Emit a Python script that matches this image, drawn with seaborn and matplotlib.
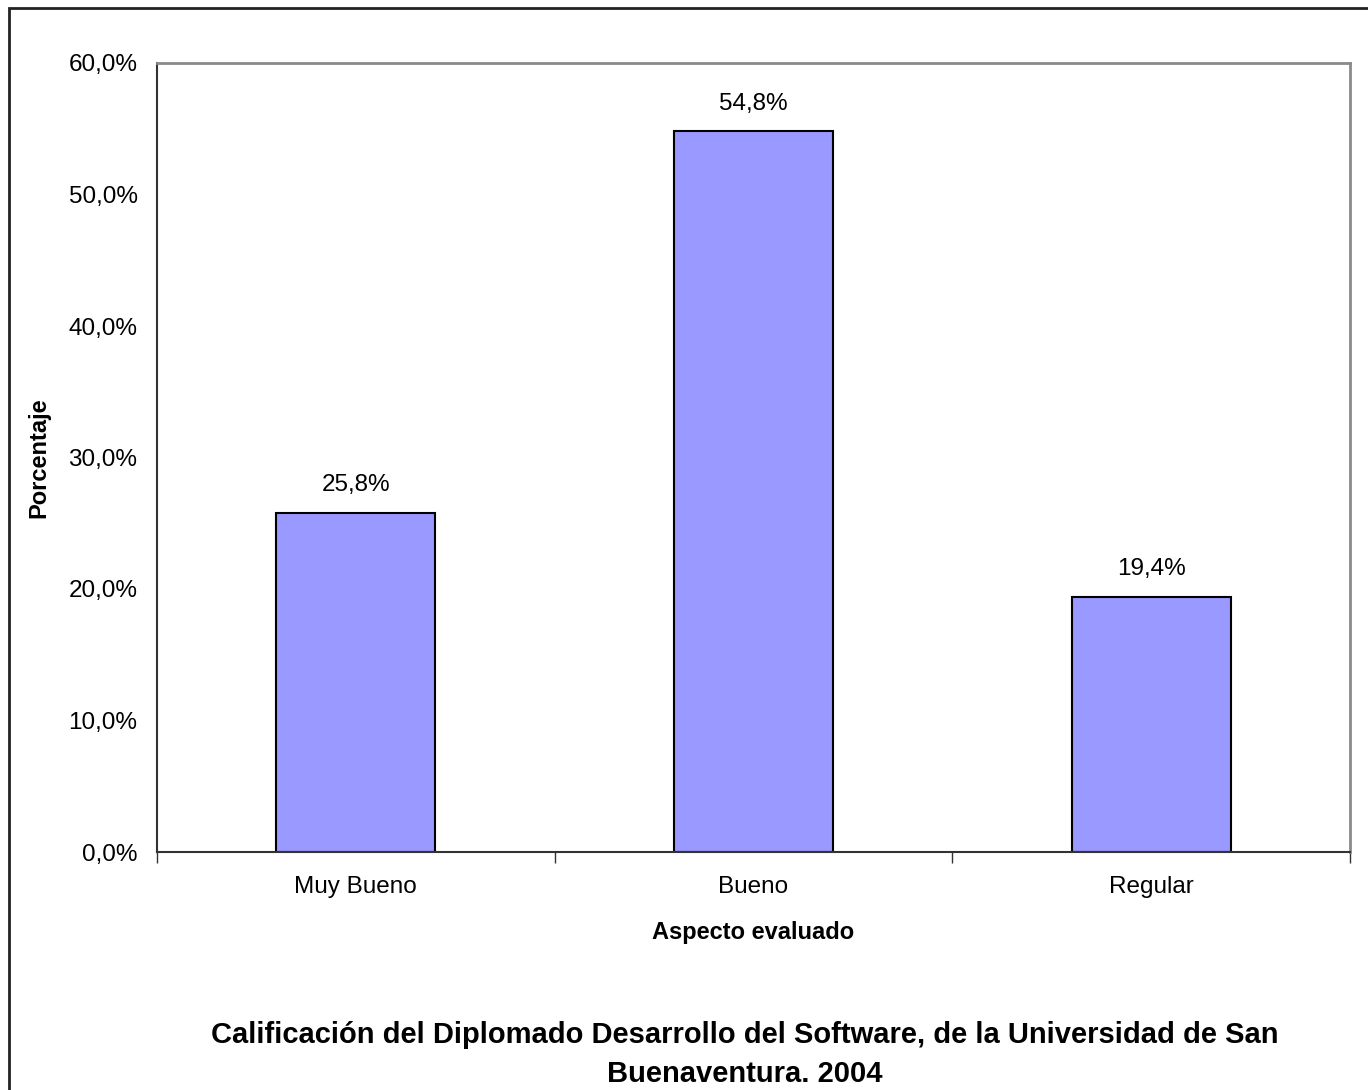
import matplotlib
matplotlib.use("Agg")
import matplotlib.pyplot as plt
from matplotlib.patches import Rectangle
from matplotlib.ticker import FuncFormatter, FixedLocator
import seaborn as sns
import pandas as pd

# data
categorias = ["Muy Bueno", "Bueno", "Regular"]
porcentajes = [25.8, 54.8, 19.4]
etiquetas = ["25,8%", "54,8%", "19,4%"]

sns.set_style("white")
plt.rcParams["font.family"] = ["Liberation Sans", "DejaVu Sans"]
plt.rcParams["text.color"] = "black"
plt.rcParams["xtick.color"] = "black"
plt.rcParams["ytick.color"] = "black"
plt.rcParams["axes.labelcolor"] = "black"

df = pd.DataFrame({"categoria": categorias, "porcentaje": porcentajes})

fig = plt.figure(figsize=(13.68, 10.90), dpi=100)
ax = fig.add_axes([157 / 1368, 1 - 852 / 1090, (1350 - 157) / 1368, (852 - 63) / 1090])

sns.barplot(data=df, x="categoria", y="porcentaje", order=categorias,
            color="#9999FF", saturation=1, width=0.4,
            edgecolor="black", linewidth=1.5, ax=ax)

ax.set_ylim(0, 60)
ax.set_xlim(-0.5, 2.5)
ax.yaxis.set_major_locator(FixedLocator([0, 10, 20, 30, 40, 50, 60]))
ax.yaxis.set_major_formatter(FuncFormatter(lambda v, p: f"{v:.1f}%".replace(".", ",")))
ax.tick_params(axis="y", which="major", direction="out", length=8, width=1,
               color="#333333", labelsize=17.5, pad=6)

# category dividers as minor ticks, labels on major ticks without marks
ax.xaxis.set_minor_locator(FixedLocator([-0.5, 0.5, 1.5, 2.5]))
ax.tick_params(axis="x", which="minor", direction="out", length=8, width=1,
               color="#333333", bottom=True)
ax.tick_params(axis="x", which="major", length=0, labelsize=17.5, pad=17)

for side in ["top", "right"]:
    ax.spines[side].set_color("#8a8a8a")
    ax.spines[side].set_linewidth(2)
for side in ["left", "bottom"]:
    ax.spines[side].set_color("#333333")
    ax.spines[side].set_linewidth(1.5)

ax.bar_label(ax.containers[0], labels=etiquetas, padding=12, fontsize=17.5)

ax.set_xlabel("Aspecto evaluado", fontsize=17, fontweight="bold", labelpad=17)
ax.set_ylabel("Porcentaje", fontsize=17, fontweight="bold", labelpad=13)

fig.text(745 / 1368, 1 - 1035 / 1090,
         "Calificación del Diplomado Desarrollo del Software, de la Universidad de San",
         ha="center", va="center", fontsize=21, fontweight="bold")
fig.text(745 / 1368, 1 - 1074 / 1090, "Buenaventura. 2004",
         ha="center", va="center", fontsize=21, fontweight="bold")

# outer chart frame (cut by the image edge on right and bottom)
fig.patches.append(Rectangle((9 / 1368, -0.05), 1.2, 1 - 8 / 1090 + 0.05,
                             transform=fig.transFigure, fill=False,
                             edgecolor="#222222", linewidth=2))

fig.savefig("out.png", dpi=100)
